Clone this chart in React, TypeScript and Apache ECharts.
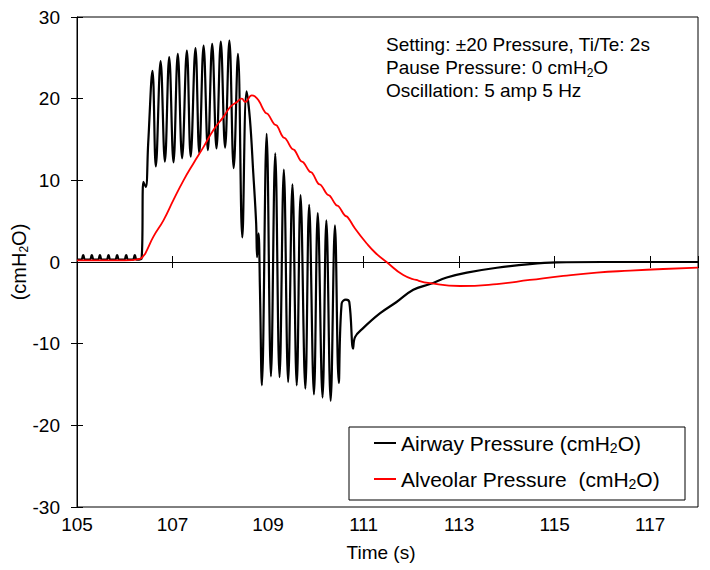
import React, { useEffect, useRef } from "react";
import * as echarts from "echarts";

// ---- Data ----
const xTicks = { min: 105, max: 118, step: 2 };
const yTicks = { min: -30, max: 30, step: 10 };

const airwayName = "Airway Pressure (cmH2O)";
const alveolarName = "Alveolar Pressure (cmH2O)";

const airwayTime = [
  105.0, 105.09, 105.13, 105.17, 105.27, 105.31, 105.35, 105.44, 105.48, 105.52, 105.62, 105.66,
  105.7, 105.8, 105.84, 105.88, 105.99, 106.03, 106.07, 106.17, 106.21, 106.25, 106.35, 106.39,
  106.44, 106.49, 106.58, 106.65, 106.75, 106.84, 106.93, 107.02, 107.11, 107.2, 107.3, 107.38,
  107.48, 107.56, 107.65, 107.74, 107.83, 107.92, 108.01, 108.1, 108.19, 108.28, 108.37, 108.46,
  108.55, 108.62, 108.69, 108.75, 108.77, 108.8, 108.83, 108.87, 108.97, 109.06, 109.15, 109.24,
  109.33, 109.42, 109.51, 109.6, 109.68, 109.78, 109.86, 109.96, 110.04, 110.14, 110.22, 110.31,
  110.4, 110.48, 110.54, 110.63, 110.7, 110.78, 110.82, 110.99, 111.34, 111.69, 112.04, 112.39,
  112.74, 113.16, 113.79, 114.48, 115.04, 116.0, 118.0,
];
const airwayValue = [
  0.3, 0.3, 0.85, 0.3, 0.3, 0.85, 0.3, 0.3, 0.85, 0.3, 0.3, 0.85,
  0.3, 0.3, 0.85, 0.3, 0.3, 0.85, 0.3, 0.3, 0.85, 0.3, 0.4, 9.8,
  9.2, 14.5, 23.4, 11.7, 24.6, 12.3, 25.1, 12.2, 25.5, 12.7, 25.9, 12.9,
  26.2, 13.3, 26.5, 13.7, 26.7, 13.9, 27.0, 14.0, 27.1, 11.5, 25.5, 3.0,
  20.9, 17.5, 10.9, 4.8, 0.6, 3.5, -3.4, -15.1, 15.7, -14.0, 13.3, -14.1,
  11.3, -14.7, 9.5, -15.1, 8.2, -15.5, 7.0, -16.2, 6.0, -16.6, 5.1, -17.0,
  4.5, -14.8, -5.1, -4.6, -4.9, -10.6, -9.2, -8.1, -6.3, -4.9, -3.4, -2.7,
  -1.9, -1.3, -0.7, -0.25, -0.05, 0.0, 0.0,
];

const alveolarTime = [
  105.0, 106.0, 106.3, 106.4, 106.46, 106.6, 106.81, 107.02, 107.23, 107.44, 107.65, 107.86,
  108.07, 108.21, 108.35, 108.45, 108.52, 108.66, 108.72, 108.8, 108.94, 109.0, 109.125, 109.185,
  109.31, 109.37, 109.495, 109.555, 109.68, 109.74, 109.865, 109.925, 110.05, 110.11, 110.235, 110.295,
  110.42, 110.48, 110.605, 110.665, 110.82, 111.06, 111.25, 111.48, 111.83, 112.1, 112.39, 113.02,
  113.79, 114.48, 115.18, 115.88, 116.58, 117.27, 118.0,
];
const alveolarValue = [
  0.2, 0.2, 0.35, 0.8, 1.4, 3.1, 5.1, 7.6, 10.0, 12.1, 14.1, 16.2,
  17.8, 19.0, 19.6, 20.0, 19.6, 20.4, 20.3, 19.8, 18.3, 18.1, 16.9, 16.7,
  15.3, 15.1, 13.9, 13.7, 12.4, 12.2, 11.1, 10.9, 9.6, 9.4, 8.3, 8.1,
  7.0, 6.8, 5.7, 5.5, 4.1, 2.3, 1.1, 0.0, -1.6, -2.2, -2.6, -2.94,
  -2.7, -2.2, -1.7, -1.3, -1.06, -0.86, -0.7,
];

const noteLines = [
  "Setting: \u00b120 Pressure, Ti/Te: 2s",
  "Pause Pressure: 0 cmH{sub|2}O",
  "Oscillation: 5 amp 5 Hz",
];
const yAxisTitle = "(cmH{sub|2}O)";
const xAxisTitle = "Time (s)";

const FONT = "Liberation Sans, Arial, Helvetica, sans-serif";

function zip(t: number[], v: number[]) {
  return t.map((x, i) => [x, v[i]]);
}

export default function App() {
  const ref = useRef<HTMLDivElement>(null);

  useEffect(() => {
    if (!ref.current) return;
    const chart = echarts.init(ref.current, undefined, { renderer: "svg" });

    const subRich = {
      sub: {
        fontSize: 12,
        lineHeight: 12,
        verticalAlign: "bottom",
        fontFamily: FONT,
        color: "#000",
      },
    };
    const legendRich = {
      sub: {
        fontSize: 14,
        lineHeight: 13,
        verticalAlign: "bottom",
        fontFamily: FONT,
        color: "#000",
      },
    };

    const baseX = {
      type: "value",
      min: xTicks.min,
      max: xTicks.max,
      interval: xTicks.step,
      position: "bottom",
      splitLine: { show: false },
      axisLabel: { show: false },
    };

    const option: any = {
      animation: false,
      backgroundColor: "#fff",
      grid: {
        left: 77,
        right: 12,
        top: 17,
        bottom: 63,
        show: true,
        borderColor: "#000",
        borderWidth: 1,
        backgroundColor: "transparent",
      },
      xAxis: [
        {
          ...baseX,
          axisLine: { show: true, onZero: true, onZeroAxisIndex: 0, lineStyle: { color: "#000", width: 1 } },
          axisTick: { show: true, inside: true, length: 6, lineStyle: { color: "#000" } },
        },
        {
          ...baseX,
          axisLine: { show: true, onZero: true, onZeroAxisIndex: 0, lineStyle: { color: "#000", width: 1 } },
          axisTick: { show: true, inside: false, length: 6, lineStyle: { color: "#000" } },
        },
        {
          ...baseX,
          axisLine: { show: false, onZero: false },
          axisTick: { show: false },
          axisLabel: {
            show: true,
            fontSize: 19,
            fontFamily: FONT,
            color: "#000",
            margin: 8,
            showMaxLabel: false,
          },
        },
      ],
      yAxis: [
        {
          type: "value",
          min: yTicks.min,
          max: yTicks.max,
          interval: yTicks.step,
          position: "left",
          axisLine: { show: true, onZero: false, lineStyle: { color: "#000", width: 1 } },
          axisTick: { show: true, inside: false, length: 6, lineStyle: { color: "#000" } },
          axisLabel: { fontSize: 19, fontFamily: FONT, color: "#000", margin: 17 },
          splitLine: { show: false },
        },
        {
          type: "value",
          min: yTicks.min,
          max: yTicks.max,
          interval: yTicks.step,
          position: "left",
          axisLine: { show: false, onZero: false },
          axisTick: { show: true, inside: true, length: 6, lineStyle: { color: "#000" } },
          axisLabel: { show: false },
          splitLine: { show: false },
        },
      ],
      legend: {
        orient: "vertical",
        left: 374,
        top: 431,
        padding: 0,
        itemGap: 12,
        itemWidth: 22,
        itemHeight: 2,
        icon: "rect",
        selectedMode: false,
        data: [airwayName, alveolarName],
        formatter: (name: string) =>
          name === airwayName ? "Airway Pressure (cmH{sub|2}O)" : "Alveolar Pressure  (cmH{sub|2}O)",
        textStyle: {
          fontSize: 21,
          fontFamily: FONT,
          color: "#000",
          lineHeight: 24,
          rich: legendRich,
        },
      },
      graphic: [
        {
          type: "rect",
          silent: true,
          shape: { x: 349, y: 427, width: 336, height: 73 },
          style: { fill: "none", stroke: "#000", lineWidth: 1 },
        },
        {
          type: "text",
          x: 386,
          y: 33,
          silent: true,
          style: {
            text: noteLines.join("\n"),
            fontSize: 19,
            fontFamily: FONT,
            fill: "#000",
            lineHeight: 23,
            align: "left",
            verticalAlign: "top",
            rich: subRich,
          },
        },
        {
          type: "text",
          x: 19,
          y: 262,
          rotation: Math.PI / 2,
          silent: true,
          style: {
            text: yAxisTitle,
            fontSize: 20,
            fontFamily: FONT,
            fill: "#000",
            lineHeight: 22,
            align: "center",
            verticalAlign: "middle",
            rich: subRich,
          },
        },
        {
          type: "text",
          x: 381,
          y: 552,
          silent: true,
          style: {
            text: xAxisTitle,
            fontSize: 19,
            fontFamily: FONT,
            fill: "#000",
            align: "center",
            verticalAlign: "middle",
          },
        },
      ],
      series: [
        {
          name: alveolarName,
          type: "line",
          xAxisIndex: 0,
          yAxisIndex: 0,
          data: zip(alveolarTime, alveolarValue),
          showSymbol: false,
          symbol: "none",
          smooth: 0.5,
          color: "#ff0000",
          lineStyle: { color: "#ff0000", width: 1.8 },
          z: 3,
        },
        {
          name: airwayName,
          type: "line",
          xAxisIndex: 0,
          yAxisIndex: 0,
          data: zip(airwayTime, airwayValue),
          showSymbol: false,
          symbol: "none",
          smooth: 0.4,
          color: "#000000",
          lineStyle: { color: "#000000", width: 2.2 },
          z: 2,
        },
      ],
    };

    chart.setOption(option);
    return () => chart.dispose();
  }, []);

  return (
    <div
      ref={ref}
      style={{ position: "fixed", left: 0, top: 0, width: 710, height: 570, background: "#fff" }}
    />
  );
}
